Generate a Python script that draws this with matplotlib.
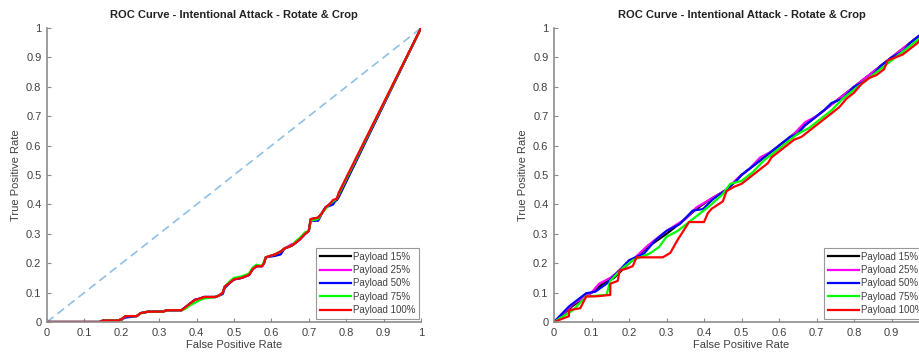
import matplotlib.pyplot as plt

plt.rcParams['font.family'] = ['Liberation Sans', 'DejaVu Sans']

labels = ['Payload 15%', 'Payload 25%', 'Payload 50%', 'Payload 75%', 'Payload 100%']
colors = ['#000000', '#ff00ff', '#0000ff', '#00ff00', '#ff0000']
title = 'ROC Curve - Intentional Attack - Rotate & Crop'

# left panel (with chance line)
fpr_a = [0, 0.14, 0.15, 0.19, 0.20, 0.21, 0.24, 0.25, 0.27, 0.31, 0.32, 0.36, 0.37, 0.38, 0.395,
         0.41, 0.42, 0.45, 0.46, 0.47, 0.475, 0.49, 0.50, 0.52, 0.54, 0.55, 0.56, 0.575, 0.58,
         0.585, 0.61, 0.625, 0.635, 0.655, 0.665, 0.675, 0.69, 0.70, 0.705, 0.725, 0.735, 0.745,
         0.755, 0.765, 0.775, 0.78, 1.0]
tpr_red_a = [0, 0, 0.005, 0.005, 0.01, 0.02, 0.02, 0.03, 0.035, 0.035, 0.04, 0.04, 0.05, 0.06, 0.075,
             0.08, 0.085, 0.085, 0.09, 0.10, 0.12, 0.135, 0.145, 0.15, 0.16, 0.18, 0.19, 0.19, 0.20,
             0.22, 0.23, 0.24, 0.25, 0.26, 0.27, 0.28, 0.30, 0.31, 0.35, 0.355, 0.37, 0.39,
             0.40, 0.415, 0.42, 0.44, 1.0]
tpr_grn_a = [0, 0, 0.005, 0.005, 0.01, 0.02, 0.02, 0.03, 0.035, 0.035, 0.04, 0.04, 0.045, 0.055, 0.065,
             0.075, 0.08, 0.085, 0.09, 0.10, 0.12, 0.14, 0.15, 0.155, 0.165, 0.185, 0.195, 0.19, 0.205,
             0.22, 0.23, 0.24, 0.25, 0.26, 0.275, 0.285, 0.305, 0.31, 0.345, 0.35, 0.37, 0.385,
             0.40, 0.41, 0.42, 0.435, 1.0]
tpr_blu_a = [0, 0, 0.005, 0.005, 0.01, 0.015, 0.02, 0.03, 0.035, 0.035, 0.04, 0.04, 0.05, 0.06, 0.075,
             0.08, 0.085, 0.085, 0.09, 0.095, 0.115, 0.135, 0.145, 0.15, 0.16, 0.18, 0.19, 0.19, 0.20,
             0.22, 0.225, 0.23, 0.25, 0.26, 0.27, 0.28, 0.30, 0.31, 0.345, 0.345, 0.37, 0.39,
             0.395, 0.40, 0.42, 0.43, 1.0]
tpr_mag_a = [0, 0, 0.005, 0.005, 0.01, 0.02, 0.02, 0.03, 0.035, 0.035, 0.04, 0.04, 0.05, 0.06, 0.075,
             0.08, 0.085, 0.085, 0.09, 0.10, 0.12, 0.135, 0.145, 0.15, 0.16, 0.18, 0.19, 0.19, 0.20,
             0.22, 0.23, 0.24, 0.25, 0.265, 0.27, 0.28, 0.30, 0.31, 0.345, 0.345, 0.37, 0.39,
             0.40, 0.41, 0.42, 0.43, 1.0]
tpr_blk_a = [0, 0, 0.005, 0.005, 0.01, 0.02, 0.02, 0.03, 0.035, 0.035, 0.04, 0.04, 0.05, 0.06, 0.075,
             0.08, 0.085, 0.085, 0.09, 0.10, 0.12, 0.135, 0.145, 0.15, 0.16, 0.18, 0.19, 0.19, 0.20,
             0.22, 0.23, 0.24, 0.25, 0.26, 0.27, 0.28, 0.30, 0.31, 0.35, 0.355, 0.37, 0.39,
             0.40, 0.41, 0.415, 0.425, 1.0]

# right panel
fpr_red_b = [0, 0.02, 0.04, 0.04, 0.07, 0.086, 0.11, 0.15, 0.15, 0.17, 0.175, 0.19, 0.21, 0.22, 0.29,
             0.31, 0.33, 0.345, 0.36, 0.40, 0.41, 0.42, 0.45, 0.46, 0.48, 0.5, 0.52, 0.53, 0.55, 0.57,
             0.58, 0.6, 0.62, 0.64, 0.66, 0.68, 0.7, 0.72, 0.74, 0.76, 0.78, 0.8, 0.82, 0.84, 0.86,
             0.88, 0.89, 0.91, 0.93, 0.95, 0.97, 0.99, 1.0]
tpr_red_b = [0, 0.01, 0.02, 0.04, 0.047, 0.087, 0.087, 0.092, 0.13, 0.14, 0.176, 0.18, 0.19, 0.22, 0.22,
             0.235, 0.28, 0.31, 0.34, 0.34, 0.37, 0.385, 0.41, 0.445, 0.46, 0.47, 0.49, 0.50, 0.52, 0.54,
             0.56, 0.58, 0.60, 0.62, 0.63, 0.65, 0.67, 0.69, 0.71, 0.73, 0.76, 0.78, 0.81, 0.83, 0.84,
             0.86, 0.89, 0.90, 0.91, 0.93, 0.95, 0.98, 1.0]
fpr_grn_b = [0, 0.05, 0.086, 0.14, 0.15, 0.18, 0.21, 0.255, 0.28, 0.30, 0.33, 0.35, 0.39, 0.415, 0.45,
             0.47, 0.5, 0.53, 0.56, 0.59, 0.62, 0.65, 0.68, 0.71, 0.74, 0.77, 0.8, 0.83, 0.86, 0.89,
             0.92, 0.95, 0.98, 1.0]
tpr_grn_b = [0, 0.04, 0.087, 0.092, 0.14, 0.18, 0.21, 0.233, 0.255, 0.29, 0.31, 0.33, 0.37, 0.395, 0.435,
             0.47, 0.48, 0.51, 0.55, 0.58, 0.61, 0.64, 0.66, 0.69, 0.72, 0.76, 0.79, 0.82, 0.85, 0.88,
             0.91, 0.94, 0.97, 1.0]
fpr_blu_b = [0, 0.04, 0.086, 0.11, 0.14, 0.166, 0.2, 0.24, 0.27, 0.3, 0.335, 0.37, 0.397, 0.424, 0.46,
             0.486, 0.5, 0.53, 0.55, 0.58, 0.6, 0.63, 0.65, 0.67, 0.7, 0.72, 0.74, 0.77, 0.8, 0.83,
             0.85, 0.87, 0.9, 0.93, 0.95, 0.97, 1.0]
tpr_blu_b = [0, 0.053, 0.098, 0.103, 0.13, 0.165, 0.21, 0.233, 0.278, 0.31, 0.333, 0.379, 0.384, 0.418, 0.45,
             0.48, 0.50, 0.53, 0.55, 0.58, 0.60, 0.63, 0.64, 0.67, 0.70, 0.72, 0.745, 0.76, 0.80, 0.82,
             0.84, 0.87, 0.90, 0.92, 0.95, 0.97, 1.0]
fpr_mag_b = [0, 0.05, 0.1, 0.12, 0.15, 0.2, 0.25, 0.3, 0.35, 0.38, 0.42, 0.46, 0.49, 0.52, 0.55, 0.58,
             0.61, 0.64, 0.67, 0.7, 0.73, 0.76, 0.79, 0.82, 0.85, 0.88, 0.91, 0.94, 0.97, 1.0]
tpr_mag_b = [0, 0.06, 0.10, 0.13, 0.15, 0.20, 0.26, 0.31, 0.35, 0.39, 0.42, 0.45, 0.49, 0.52, 0.56, 0.58,
             0.61, 0.64, 0.68, 0.70, 0.73, 0.76, 0.79, 0.82, 0.85, 0.88, 0.91, 0.94, 0.97, 1.0]
fpr_blk_b = [0, 0.05, 0.1, 0.13, 0.16, 0.2, 0.25, 0.3, 0.34, 0.38, 0.42, 0.46, 0.5, 0.54, 0.58, 0.62,
             0.66, 0.7, 0.74, 0.78, 0.82, 0.86, 0.9, 0.94, 0.97, 1.0]
tpr_blk_b = [0, 0.055, 0.10, 0.13, 0.15, 0.20, 0.255, 0.30, 0.34, 0.385, 0.42, 0.45, 0.50, 0.54, 0.58, 0.62,
             0.66, 0.70, 0.74, 0.78, 0.82, 0.86, 0.90, 0.94, 0.97, 1.0]

left_curves = [(fpr_a, tpr_blk_a), (fpr_a, tpr_mag_a), (fpr_a, tpr_blu_a), (fpr_a, tpr_grn_a), (fpr_a, tpr_red_a)]
right_curves = [(fpr_blk_b, tpr_blk_b), (fpr_mag_b, tpr_mag_b), (fpr_blu_b, tpr_blu_b),
                (fpr_grn_b, tpr_grn_b), (fpr_red_b, tpr_red_b)]

fig = plt.figure(figsize=(9.2, 3.58), dpi=100)
ax1 = fig.add_axes([0.0511, 0.1006, 0.4065, 0.821])
ax2 = fig.add_axes([0.6022, 0.1006, 0.4076, 0.821])


def style(ax):
    ax.set_xlim(0, 1)
    ax.set_ylim(0, 1)
    ax.set_xticks([i / 10 for i in range(11)])
    ax.set_yticks([i / 10 for i in range(11)])
    ax.set_xticklabels(['0', '0.1', '0.2', '0.3', '0.4', '0.5', '0.6', '0.7', '0.8', '0.9', '1'])
    ax.set_yticklabels(['0', '0.1', '0.2', '0.3', '0.4', '0.5', '0.6', '0.7', '0.8', '0.9', '1'])
    for s in ['top', 'right']:
        ax.spines[s].set_visible(False)
    for s in ['left', 'bottom']:
        ax.spines[s].set_color('#8c8c8c')
        ax.spines[s].set_linewidth(1.2)
    ax.tick_params(direction='in', length=3, width=0.8, color='#8c8c8c',
                   labelsize=8, labelcolor='#404040', pad=4)
    ax.set_xlabel('False Positive Rate', fontsize=8, color='#404040', labelpad=2)
    ax.set_ylabel('True Positive Rate', fontsize=8, color='#404040', labelpad=4)
    ax.set_title(title, fontsize=8, fontweight='bold', color='#222222', pad=7)


ax1.plot([0, 1], [0, 1], '--', color='#8ec0e8', lw=1.2, dashes=(5, 3))
for (x, y), c, lab in zip(left_curves, colors, labels):
    ax1.plot(x, y, color=c, lw=1.6, label=lab)
for (x, y), c, lab in zip(right_curves, colors, labels):
    ax2.plot(x, y, color=c, lw=1.6, label=lab)

for ax in (ax1, ax2):
    style(ax)
    leg = ax.legend(loc='lower right', fontsize=7, frameon=True, fancybox=False,
                    handlelength=3.2, handletextpad=0.2, borderpad=0.4, labelspacing=0.35,
                    borderaxespad=0.3, bbox_to_anchor=(1.003, 0.0))
    leg.get_frame().set_edgecolor('#7f7f7f')
    leg.get_frame().set_linewidth(0.8)
    for t in leg.get_texts():
        t.set_color('#404040')

fig.savefig('out.png', dpi=100)
